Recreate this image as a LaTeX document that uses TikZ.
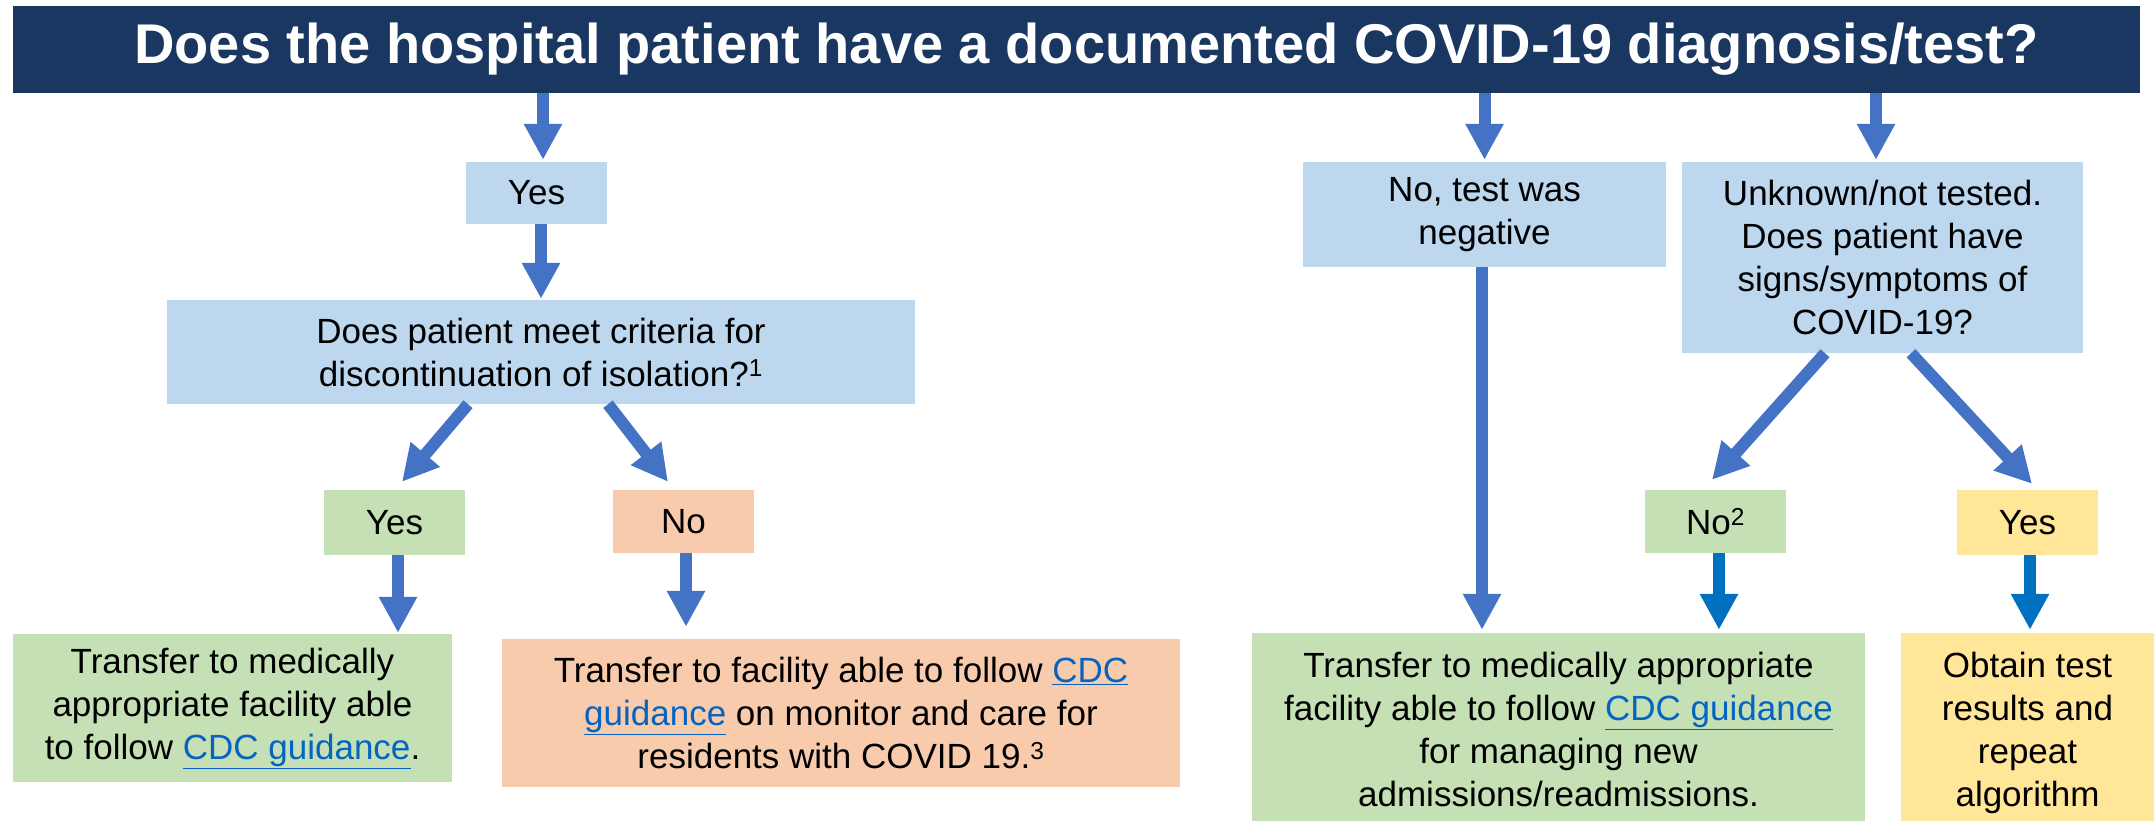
\documentclass[tikz,border=0pt]{standalone}
\usepackage{fontspec}
\setmainfont{Liberation Sans}
\usetikzlibrary{arrows.meta,calc}
\definecolor{hdrblue}{HTML}{1A3761}
\definecolor{arrblue}{HTML}{4472C4}
\definecolor{arrdark}{HTML}{0070C0}
\definecolor{lblue}{HTML}{BDD7EE}
\definecolor{lgreen}{HTML}{C5E0B4}
\definecolor{lorange}{HTML}{F8CBAD}
\definecolor{lyellow}{HTML}{FFE699}
\definecolor{linkblue}{HTML}{0563C1}
\newcommand{\cdclink}[1]{{\color{linkblue}\underline{#1}}}
\newcommand{\lowertext}[1]{\raisebox{0pt}[\dimexpr\height+12pt\relax][\depth]{\begin{tabular}{@{}c@{}}#1\end{tabular}}}
\tikzset{
  box/.style={rectangle, inner sep=0pt, align=center, text=black,
    font=\fontsize{35}{43}\selectfont},
  arr/.style={draw=arrblue, line width=12pt, -{Triangle[width=36pt,length=36pt]}},
  arrd/.style={draw=arrdark, line width=12pt, -{Triangle[width=36pt,length=36pt]}},
}
\begin{document}
\begin{tikzpicture}[x=1pt,y=-1pt]
\useasboundingbox (0,0) rectangle (2154,821);
% header
\node[rectangle, fill=hdrblue, inner sep=0pt, minimum width=2127pt, minimum height=87pt,
  text=white, font=\fontsize{56}{60}\selectfont\bfseries] (hdr) at (1076.5,49.5)
  {\hspace*{20pt}Does the hospital patient have a documented COVID-19 diagnosis/test?};
% left branch
\node[box, fill=lblue, minimum width=141pt, minimum height=62pt] (yes1) at (536.5,193) {Yes};
\node[box, fill=lblue, minimum width=748pt, minimum height=104pt] (crit) at (541,352)
  {Does patient meet criteria for\\discontinuation of isolation?\textsuperscript{1}};
\node[box, fill=lgreen, minimum width=141pt, minimum height=65pt] (yes2) at (394.5,522.5) {Yes};
\node[box, fill=lorange, minimum width=141pt, minimum height=63pt] (no1) at (683.5,521.5) {No};
\node[box, fill=lgreen, minimum width=439pt, minimum height=148pt] (grn1) at (232.5,708)
  {Transfer to medically\\appropriate facility able\\to follow \cdclink{CDC guidance}.};
\node[box, fill=lorange, minimum width=678pt, minimum height=148pt] (org1) at (841,713)
  {Transfer to facility able to follow \cdclink{CDC}\\\cdclink{guidance} on monitor and care for\\residents with COVID 19.\textsuperscript{3}};
% right branches
\node[box, fill=lblue, minimum width=363pt, minimum height=105pt] (neg) at (1484.5,214.5)
  {No, test was\\negative};
\node[box, fill=lblue, minimum width=401pt, minimum height=191pt] (unk) at (1882.5,257.5)
  {Unknown/not tested.\\Does patient have\\signs/symptoms of\\COVID-19?};
\node[box, fill=lgreen, minimum width=141pt, minimum height=63pt] (no2) at (1715.5,521.5) {No\textsuperscript{2}};
\node[box, fill=lyellow, minimum width=141pt, minimum height=65pt] (yes3) at (2027.5,522.5) {Yes};
\node[box, fill=lgreen, minimum width=613pt, minimum height=188pt] (grn2) at (1558.5,727)
  {\lowertext{Transfer to medically appropriate\\facility able to follow \cdclink{CDC guidance}\\for managing new\\admissions/readmissions.}};
\node[box, fill=lyellow, minimum width=253pt, minimum height=188pt] (yel) at (2027.5,727)
  {\lowertext{Obtain test\\results and\\repeat\\algorithm}};
% connectors
\draw[arr] ([xshift=6.5pt]yes1.north |- hdr.south) -- ([xshift=6.5pt,yshift=2pt]yes1.north);
\draw[arr] ([xshift=4.5pt]yes1.south) -- ([xshift=4.5pt,yshift=1pt]yes1.south |- crit.north);
\draw[arr] ($(crit.south)+(-73,0)$) -- ($(yes2.north)+(7.5,-8)$);
\draw[arr] ($(crit.south)+(67,0)$) -- ($(no1.north)+(-15.5,-8)$);
\draw[arr] ([xshift=3.5pt]yes2.south) -- ([xshift=3.5pt,yshift=1pt]yes2.south |- grn1.north);
\draw[arr] ([xshift=2.5pt]no1.south) -- ($(no1.south |- org1.north)+(2.5,-12)$);
\draw[arr] (neg.north |- hdr.south) -- ([yshift=2pt]neg.north);
\draw[arr] ([xshift=-6.5pt]unk.north |- hdr.south) -- ([xshift=-6.5pt,yshift=2pt]unk.north);
\draw[arr] ([xshift=-2.5pt]neg.south) -- ([xshift=-2.5pt,yshift=3pt]neg.south |- grn2.north);
\draw[arr] ($(unk.south)+(-57.5,0)$) -- ($(no2.north)+(-3.5,-10)$);
\draw[arr] ($(unk.south)+(28.5,0)$) -- ($(yes3.north)+(4.5,-6)$);
\draw[arrd] ([xshift=3.5pt]no2.south) -- ([xshift=3.5pt,yshift=3pt]no2.south |- grn2.north);
\draw[arrd] ([xshift=2.5pt]yes3.south) -- ([xshift=2.5pt,yshift=3pt]yes3.south |- yel.north);
\end{tikzpicture}
\end{document}
